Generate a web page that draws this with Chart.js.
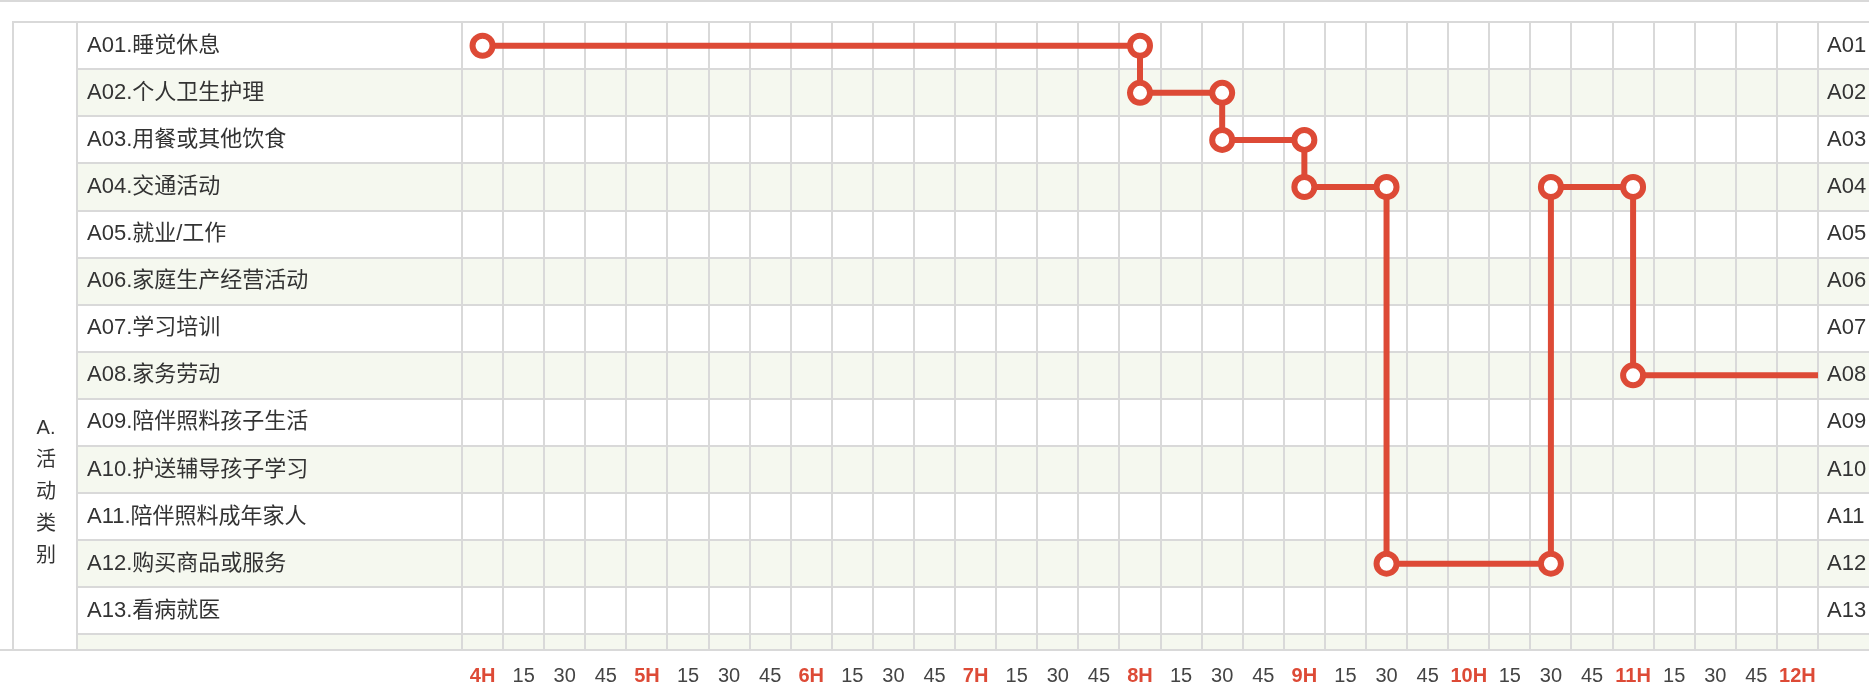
<!DOCTYPE html>
<html><head><meta charset="utf-8">
<script src="https://cdn.jsdelivr.net/npm/chart.js@4.4.1/dist/chart.umd.min.js"></script>
<style>html,body{margin:0;padding:0;background:#fff;overflow:hidden}canvas{display:block}</style>
</head><body>
<canvas id="c" width="1869" height="684"></canvas>
<script>
// ---- data ----
const categories = ['A01.睡觉休息','A02.个人卫生护理','A03.用餐或其他饮食','A04.交通活动','A05.就业/工作','A06.家庭生产经营活动','A07.学习培训','A08.家务劳动','A09.陪伴照料孩子生活','A10.护送辅导孩子学习','A11.陪伴照料成年家人','A12.购买商品或服务','A13.看病就医'];
const groupTitle = ['A.','活','动','类','别'];
const tickMinutes = [240,255,270,285,300,315,330,345,360,375,390,405,420,435,450,465,480,495,510,525,540,555,570,585,600,615,630,645,660,675,690,705,720];
const tickLabels = ['4H','15','30','45','5H','15','30','45','6H','15','30','45','7H','15','30','45','8H','15','30','45','9H','15','30','45','10H','15','30','45','11H','15','30','45','12H'];
// activity segments (minutes since midnight); last one continues past the window
const segStart = [240, 480, 510, 540, 570, 630, 660];
const segEnd   = [480, 510, 540, 570, 630, 660, 750];
const segActivity = ['A01','A02','A03','A04','A12','A04','A08'];

// ---- styling ----
const RED = '#dd4a36';
const GRID = '#d9d9d9';
const STRIPE = '#f5f8ef';
const TEXT = '#333333';
const FONT = '"Liberation Sans", Arial, "Noto Sans CJK SC", sans-serif';

const rowOf = code => categories.findIndex(c => c.startsWith(code + '.'));
const points = [];
segStart.forEach((s, i) => {
  const r = rowOf(segActivity[i]);
  points.push({x: s, y: r});
  points.push({x: segEnd[i], y: r});
});

const step = tickMinutes[1] - tickMinutes[0];
const xMin = tickMinutes[0] - step / 2;
const xMax = tickMinutes[tickMinutes.length - 1] + step / 2;
const gridMinutes = tickMinutes.map(m => m - step / 2).concat([xMax]);
const yMin = -0.5;
const yMax = categories.length - 0.5 + 1 / 3;
const rowTicks = categories.map((c, i) => i);
const rowLines = categories.map((c, i) => i - 0.5).concat([categories.length - 0.5]);

const tablePlugin = {
  id: 'table',
  beforeDraw(chart) {
    const {ctx, chartArea: ca} = chart;
    const y = chart.scales.y;
    const W = chart.width;
    const colL = 13, colM = 77;
    ctx.save();
    ctx.fillStyle = '#fff';
    ctx.fillRect(0, 0, W, chart.height);
    // stripes
    for (let i = 0; i <= categories.length; i++) {
      if (i % 2 === 1) {
        const t = Math.max(y.getPixelForValue(i - 0.5), ca.top);
        const b = Math.min(y.getPixelForValue(i + 0.5), ca.bottom);
        if (b > t) { ctx.fillStyle = STRIPE; ctx.fillRect(colM, t, W - colM, b - t); }
      }
    }
    ctx.strokeStyle = GRID;
    ctx.lineWidth = 2;
    const seg = (x1, y1, x2, y2) => { ctx.beginPath(); ctx.moveTo(x1, y1); ctx.lineTo(x2, y2); ctx.stroke(); };
    rowLines.forEach((v, i) => {
      const yy = Math.round(y.getPixelForValue(v));
      if (yy <= ca.bottom) seg(i === 0 ? colL - 1 : colM, yy, W, yy);
    });
    seg(0, ca.bottom, W, ca.bottom);
    seg(0, 1, W, 1);
    seg(colL, ca.top, colL, ca.bottom);
    seg(colM, ca.top, colM, ca.bottom);
    // group title
    ctx.fillStyle = TEXT;
    ctx.font = '20px ' + FONT;
    ctx.textAlign = 'center';
    ctx.textBaseline = 'middle';
    const cx = (colL + colM) / 2 + 1;
    const mid = 492, lh = 32;
    groupTitle.forEach((t, k) => ctx.fillText(t, cx, mid + (k - (groupTitle.length - 1) / 2) * lh));
    ctx.restore();
  }
};

new Chart(document.getElementById('c'), {
  type: 'line',
  data: {
    datasets: [{
      data: points,
      borderColor: RED,
      borderWidth: 6,
      pointRadius: c => (c.raw && c.raw.x > xMax) ? 0 : 10,
      pointHoverRadius: c => (c.raw && c.raw.x > xMax) ? 0 : 10,
      pointBorderWidth: 6,
      pointHoverBorderWidth: 6,
      pointBackgroundColor: '#ffffff',
      pointBorderColor: RED,
      tension: 0,
      clip: 0,
      xAxisID: 'x',
      yAxisID: 'y'
    }]
  },
  options: {
    responsive: false,
    animation: false,
    devicePixelRatio: 1,
    layout: {padding: {left: 87, top: 10, right: 0, bottom: 0}},
    plugins: {legend: {display: false}, tooltip: {enabled: false}},
    events: [],
    scales: {
      x: {
        type: 'linear', position: 'bottom', min: xMin, max: xMax,
        afterBuildTicks: s => { s.ticks = tickMinutes.map(v => ({value: v})); },
        afterFit: s => { s.height = 34; },
        grid: {display: false, drawTicks: false},
        border: {display: false},
        ticks: {
          autoSkip: false, maxRotation: 0, minRotation: 0, padding: 14,
          callback: (v, i) => tickLabels[i],
          color: c => (tickLabels[c.index] || '').endsWith('H') ? RED : '#444',
          font: c => ({family: FONT, size: 20, weight: (tickLabels[c.index] || '').endsWith('H') ? 'bold' : 'normal'})
        }
      },
      xGrid: {
        type: 'linear', position: 'bottom', min: xMin, max: xMax,
        afterBuildTicks: s => { s.ticks = gridMinutes.map(v => ({value: v})); },
        afterFit: s => { s.height = 0; },
        grid: {display: true, color: GRID, lineWidth: 2, drawTicks: false},
        border: {display: false},
        ticks: {display: false}
      },
      y: {
        type: 'linear', position: 'left', reverse: true, min: yMin, max: yMax,
        afterBuildTicks: s => { s.ticks = rowTicks.map(v => ({value: v})); },
        afterFit: s => { s.width = 375; },
        grid: {display: false, drawTicks: false},
        border: {display: false},
        ticks: {
          autoSkip: false, crossAlign: 'far', padding: 0, color: TEXT,
          font: {family: FONT, size: 22},
          callback: v => categories[v]
        }
      },
      y2: {
        type: 'linear', position: 'right', reverse: true, min: yMin, max: yMax,
        afterBuildTicks: s => { s.ticks = rowTicks.map(v => ({value: v})); },
        afterFit: s => { s.width = 51; },
        grid: {display: false, drawTicks: false},
        border: {display: false},
        ticks: {
          autoSkip: false, crossAlign: 'near', padding: 9, color: TEXT,
          font: {family: FONT, size: 22},
          callback: v => categories[v].split('.')[0]
        }
      }
    }
  },
  plugins: [tablePlugin]
});
</script>
</body></html>
